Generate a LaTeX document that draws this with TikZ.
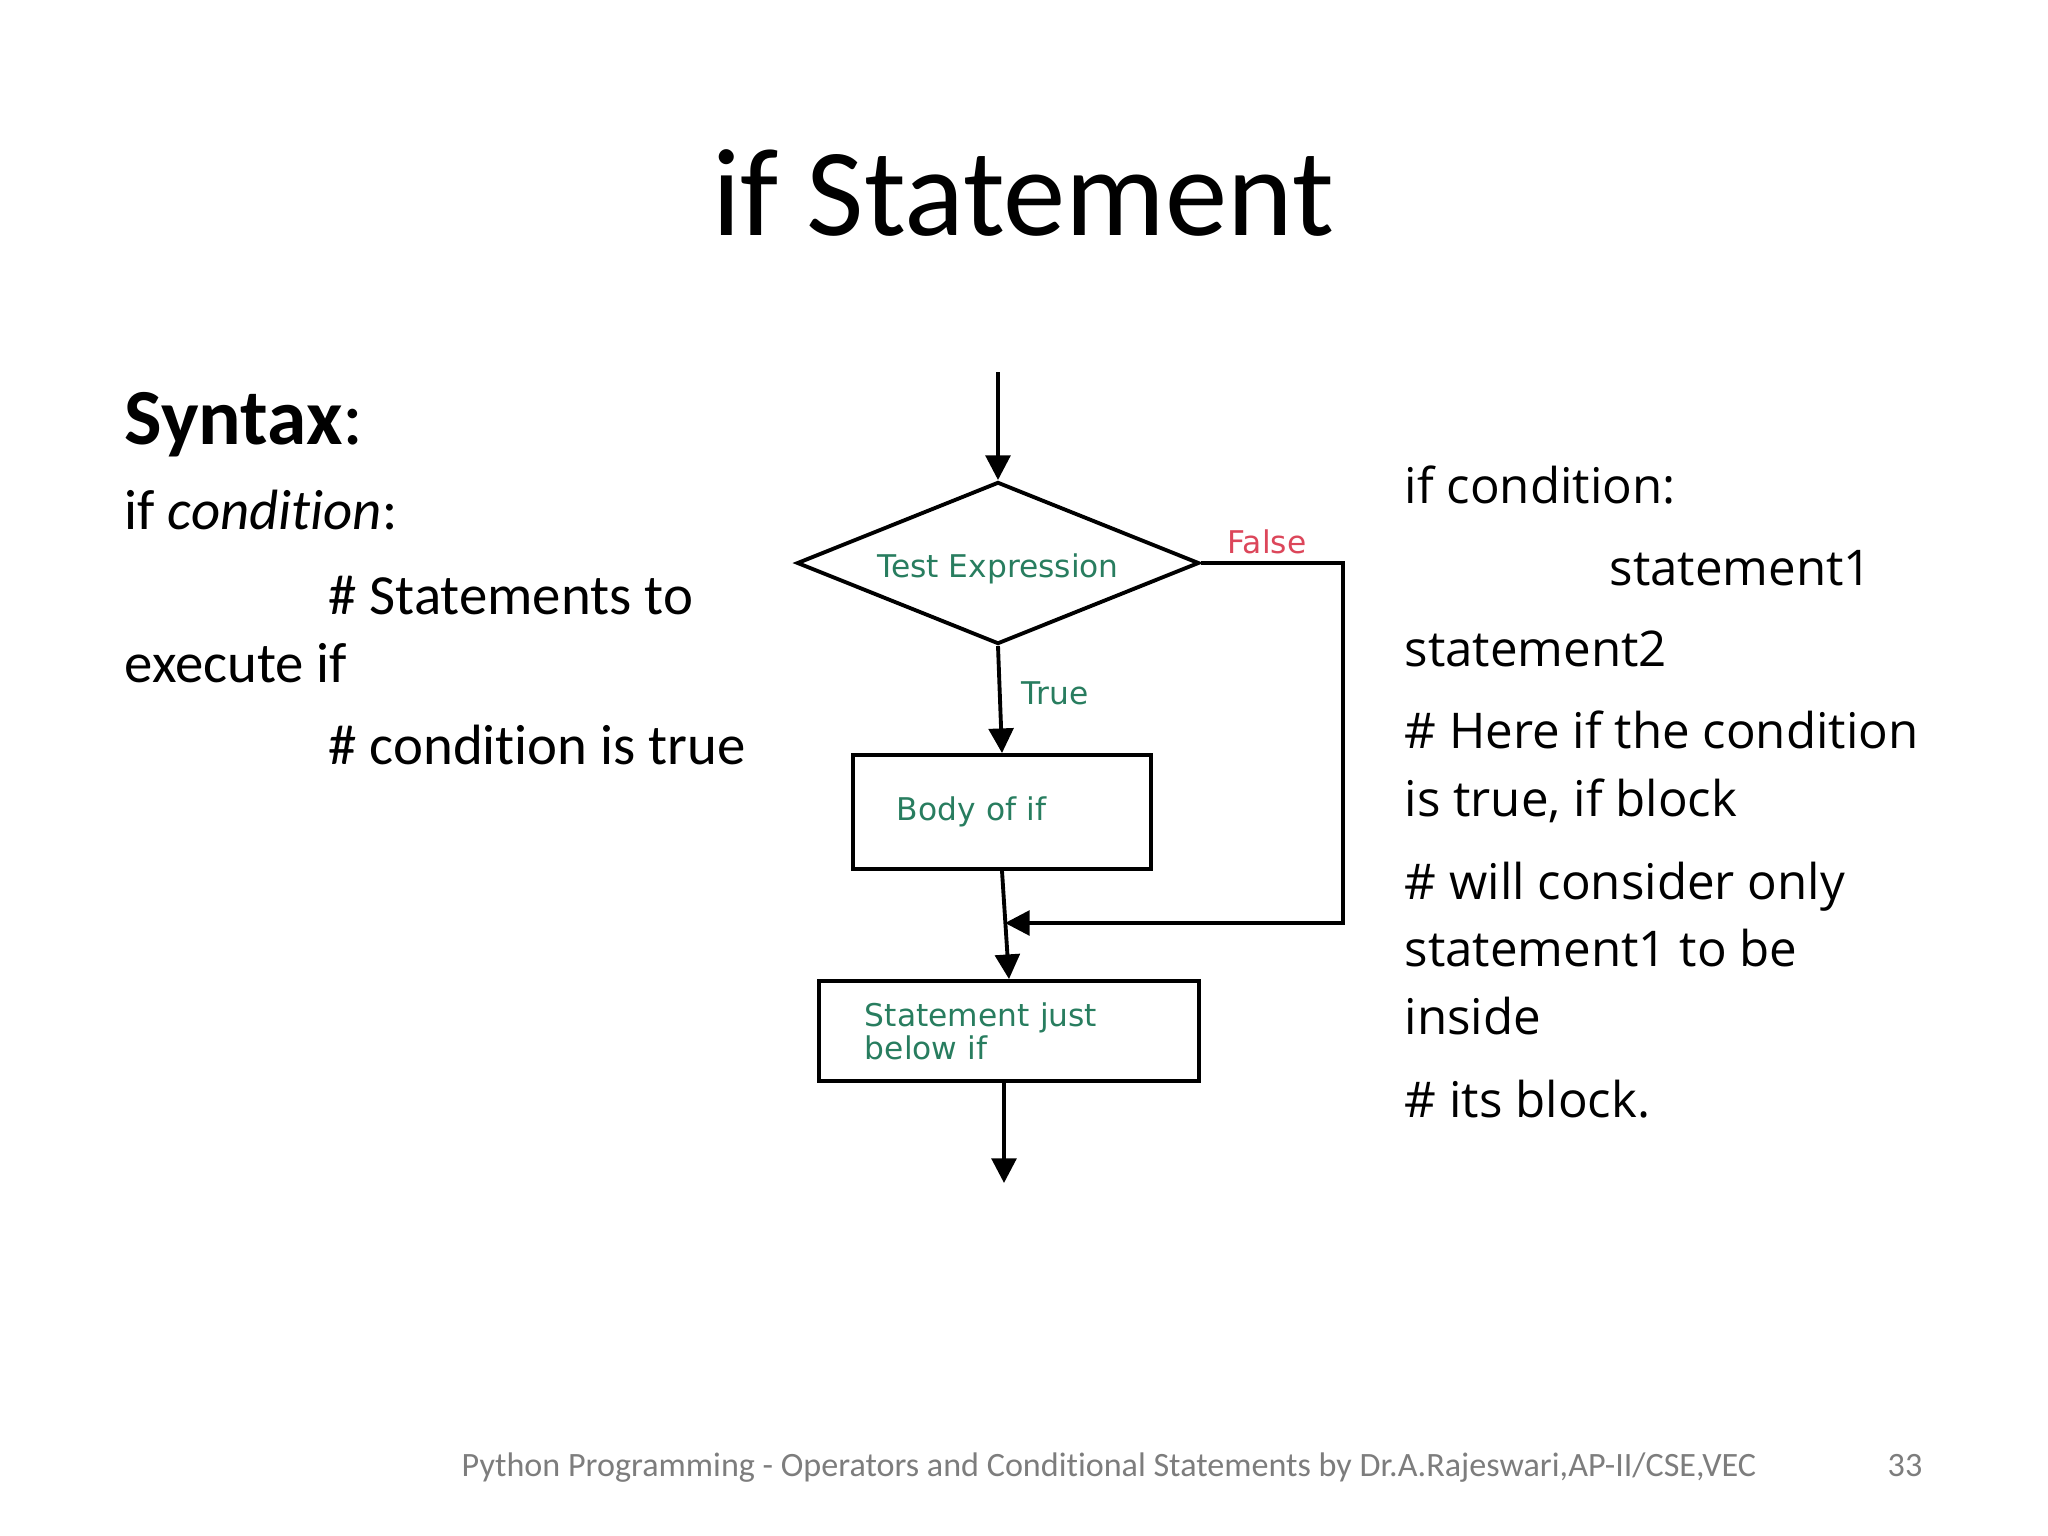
\documentclass[tikz,border=0pt]{standalone}
\usepackage{fontspec}
\setmainfont{Carlito}[Ligatures=NoCommon]
\newfontfamily\codefont{Open Sans}
\newfontfamily\chartfont{DejaVu Sans}
\usetikzlibrary{arrows.meta,shapes.geometric}
\definecolor{chartgreen}{RGB}{40,125,95}
\definecolor{falsered}{RGB}{220,70,90}
\definecolor{footgray}{RGB}{125,125,125}

\begin{document}
\begin{tikzpicture}[x=0.01cm,y=-0.01cm,>={Triangle[length=7pt,width=7pt]},
  flow/.style={->,line width=1.1pt},
  chartbox/.style={draw,line width=1.1pt,align=left,text=chartgreen,
    font=\chartfont\fontsize{8.9}{9.4}\selectfont},
  charttxt/.style={font=\chartfont\fontsize{8.9}{9.4}\selectfont},
  lefttxt/.style={anchor=base west,inner sep=0pt,font=\fontsize{16.15}{19}\selectfont},
  righttxt/.style={anchor=base west,inner sep=0pt,font=\codefont\fontsize{14}{17}\selectfont}]
  \useasboundingbox (0,0) rectangle (2048,1536);
  \node[anchor=base,inner sep=0pt,font=\fontsize{35.5}{40}\selectfont] (title) at (1023,235) {if Statement};

  \node[anchor=base west,inner sep=0pt,font=\fontsize{22.6}{26}\selectfont] (syntax) at (124,444) {\bfseries Syntax\mdseries:};
  \node[lefttxt] (l1) at (124,529) {if \textit{condition}:};
  \node[lefttxt] (l2) at (328,614) {\# Statements to};
  \node[lefttxt] (l3) at (124,682) {execute if};
  \node[lefttxt] (l4) at (328,764) {\# condition is true};

  \node[righttxt] (r1) at (1404,503) {if condition:};
  \node[righttxt] (r2) at (1609,585) {statement1};
  \node[righttxt] (r3) at (1404,666) {statement2};
  \node[righttxt] (r4) at (1404,748) {\# Here if the condition};
  \node[righttxt] (r5) at (1404,816) {is true, if block};
  \node[righttxt] (r6) at (1404,899) {\# will consider only};
  \node[righttxt] (r7) at (1404,966) {statement1 to be};
  \node[righttxt] (r8) at (1404,1034) {inside};
  \node[righttxt] (r9) at (1404,1117) {\# its block.};

  \coordinate (start) at (998,372);
  \node[diamond,draw,line width=1.1pt,inner sep=0pt,aspect=2.48,minimum width=4.02cm,minimum height=1.62cm,
    charttxt,text=chartgreen,text height=10pt,text depth=2pt] (test) at (998,563) {Test Expression};
  \node[chartbox,text width=2.1cm,inner xsep=0.44cm,minimum height=1.14cm] (body) at (1002,812) {Body of if};
  \node[chartbox,text width=2.88cm,inner xsep=0.46cm,minimum height=1.0cm] (stmt) at (1009,1031) {Statement just\\below if};
  \coordinate (fcorner) at (1343,563);
  \coordinate (mcorner) at (1343,923);
  \coordinate (merge) at (1005,923);
  \coordinate (finish) at (1004,1183);

  \draw[flow] (start) -- (test.north);
  \draw[flow] (test.south) -- (body.north);
  \draw[flow] (body.south) -- (stmt.north);
  \draw[flow] (test.east) -- (fcorner) -- (mcorner) -- (merge);
  \draw[flow] (stmt.south -| finish) -- (finish);
  \node[charttxt,text=falsered] (false) at (1267,542) {False};
  \node[charttxt,text=chartgreen] (true) at (1055,693) {True};

  \node[anchor=base west,inner sep=0pt,text=footgray,font=\fontsize{9.7}{12}\selectfont] (foot) at (461,1476)
    {Python Programming - Operators and Conditional Statements by Dr.A.Rajeswari,AP-II/CSE,VEC};
  \node[anchor=base east,inner sep=0pt,text=footgray,font=\fontsize{9.7}{12}\selectfont] (page) at (1923,1476) {33};
\end{tikzpicture}
\end{document}
